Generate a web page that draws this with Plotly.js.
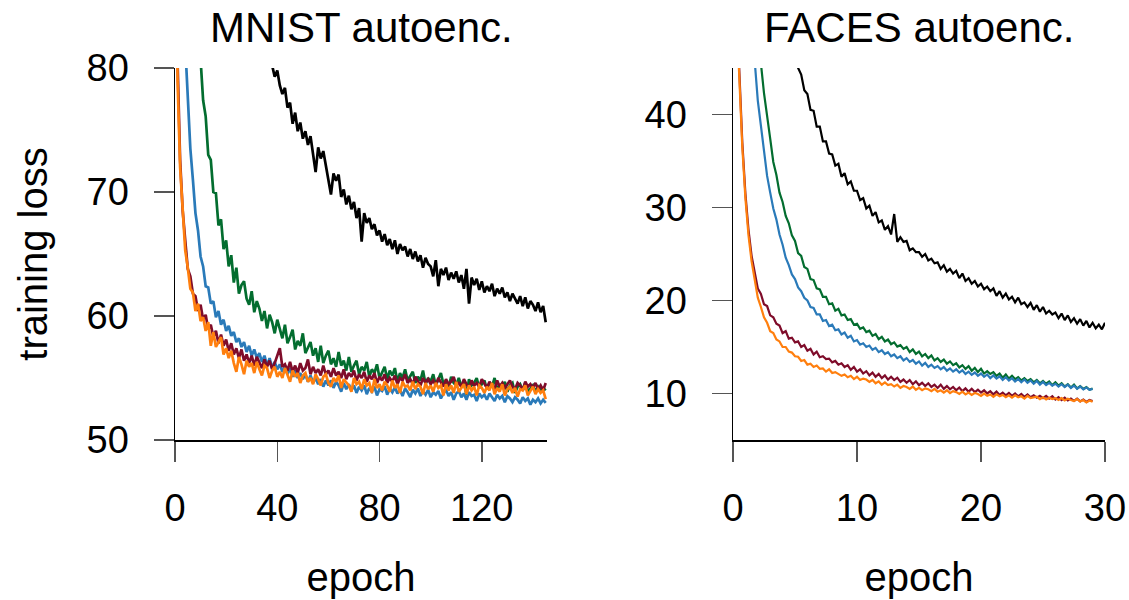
<!DOCTYPE html>
<html><head><meta charset="utf-8">
<script src="https://cdn.plot.ly/plotly-3.0.1.min.js"></script>
<style>html,body{margin:0;padding:0;background:#fff}#chart{width:1129px;height:600px}</style>
</head><body><div id="chart"></div>
<script>
// ---------- data ----------
const panelTitles = ['MNIST autoenc.', 'FACES autoenc.'];
const xLabel = 'epoch';
const yLabel = 'training loss';
const mnistXTicks = [0, 40, 80, 120];
const mnistYTicks = [50, 60, 70, 80];
const facesXTicks = [0, 10, 20, 30];
const facesYTicks = [10, 20, 30, 40];
const seriesColors = {black:'#000000', green:'#036d2f', blue:'#2a7ab9', red:'#7f0c2a', orange:'#ff7f0e'};

// MNIST: one value per epoch
const mnistBlackStart = 30;
const mnistBlack = [
90.0, 88.8, 87.5, 86.2, 85.0, 83.8, 82.6, 81.3, 80.2, 79.3,
79.8, 78.6, 77.9, 78.4, 76.8, 77.2, 75.5, 76.4, 74.9, 75.6,
74.3, 74.9, 73.8, 74.5, 73.2, 71.6, 73.6, 72.7, 73.3, 72.1,
71.2, 69.8, 71.5, 70.9, 71.4, 69.6, 70.2, 69.0, 69.7, 68.6,
69.2, 67.9, 68.7, 66.0, 68.3, 67.5, 67.9, 67.0, 67.4, 66.5,
66.9, 66.0, 66.6, 65.7, 66.2, 65.4, 66.1, 65.0, 65.8, 65.3,
65.6, 64.8, 65.4, 64.6, 65.2, 64.4, 64.9, 63.9, 64.7, 64.2,
64.0, 63.2, 64.5, 62.4, 63.8, 63.3, 63.9, 62.9, 63.5, 63.0,
63.6, 62.7, 63.3, 62.2, 63.8, 61.0, 63.1, 62.5, 63.0, 62.1,
62.8, 61.9, 62.4, 62.0, 62.6, 61.6, 62.2, 61.8, 62.3, 61.5,
61.9, 61.2, 61.8, 61.4, 61.0, 61.6, 60.8, 61.5, 60.6, 61.2,
60.9, 60.4, 61.1, 60.3, 60.8, 59.5];
const mnistGreenStart = 5;
const mnistGreen = [
110.0, 100.0, 93.0, 88.0, 84.0, 80.5,
77.4, 76.1, 73.0, 72.6, 70.0, 69.9, 67.3, 67.8, 65.4, 66.1,
64.0, 64.9, 62.7, 63.9, 61.8, 62.5, 62.8, 61.4, 60.9, 62.0,
60.3, 61.2, 60.6, 59.6, 60.4, 59.0, 60.1, 59.5, 58.6, 59.7,
58.9, 58.2, 59.3, 57.8, 58.3, 58.9, 57.3, 58.0, 57.6, 58.6,
57.0, 57.5, 57.9, 56.8, 57.4, 56.3, 57.6, 56.2, 56.8, 57.2,
56.1, 56.6, 55.9, 57.1, 56.0, 56.4, 55.6, 56.7, 55.5, 56.0,
56.4, 55.3, 55.9, 55.6, 56.3, 55.1, 55.7, 55.4, 56.1, 55.0,
55.5, 55.9, 54.9, 55.6, 55.2, 55.8, 54.7, 55.4, 55.0, 55.7,
54.8, 55.2, 55.5, 54.6, 55.1, 54.8, 55.6, 54.5, 55.0, 54.7,
55.3, 54.4, 54.9, 55.4, 54.5, 54.8, 54.2, 55.1, 54.6, 54.4,
55.0, 54.3, 54.7, 53.6, 54.9, 54.4, 54.6, 55.0, 54.2, 54.5,
54.8, 54.1, 54.6, 54.3, 55.0, 54.0, 54.5, 54.2, 54.7, 53.9,
54.4, 54.6, 53.8, 54.3, 54.5, 54.0, 54.6, 53.9, 54.2, 54.4,
53.9, 54.3, 54.0, 54.2, 54.0];
const mnistBlueStart = 0;
const mnistBlue = [
125.0,
100.0, 92.0, 86.0, 81.5, 77.2, 73.5, 71.0, 68.3, 66.9, 64.8,
64.0, 62.4, 62.3, 61.0, 61.2, 59.9, 60.4, 59.3, 59.7, 58.8,
59.2, 58.4, 58.7, 57.9, 58.2, 57.5, 57.9, 57.1, 57.6, 56.8,
57.3, 56.6, 57.0, 56.3, 56.8, 56.0, 56.6, 55.8, 56.3, 55.7,
56.1, 55.5, 55.9, 55.3, 55.8, 55.1, 55.6, 55.0, 55.4, 54.9,
55.3, 54.7, 55.2, 54.6, 55.0, 54.5, 54.9, 54.3, 54.8, 54.4,
54.8, 54.2, 54.7, 54.4, 53.9, 54.6, 54.1, 54.5, 54.0, 54.4,
53.8, 54.3, 54.0, 54.4, 53.7, 54.2, 53.9, 54.3, 53.6, 54.1,
53.95, 54.35, 53.65, 54.15, 53.85, 54.25, 53.75, 54.05, 53.55, 54.15,
53.85, 53.45, 54.05, 53.75, 54.15, 53.55, 53.95, 53.65, 54.05, 53.45,
53.85, 53.65, 53.95, 53.35, 53.75, 54.05, 53.55, 53.85, 53.25, 53.75,
53.95, 53.45, 53.75, 53.25, 53.85, 53.55, 53.65, 53.15, 53.75, 53.45,
53.65, 53.25, 53.75, 53.45, 53.15, 53.65, 53.35, 53.55, 53.05, 53.55,
53.35, 53.05, 53.45, 53.25, 52.95, 53.45, 53.15, 53.35, 52.85, 53.25,
53.05, 53.35, 52.95, 53.25, 53.0];
const mnistRedStart = 0;
const mnistRed = [
112.0,
80.5, 72.6, 68.5, 66.1, 63.8, 63.2, 61.8, 61.6, 60.4, 60.9,
59.7, 60.1, 58.9, 59.3, 58.3, 58.8, 57.8, 58.5, 57.6, 58.1,
57.2, 57.8, 56.9, 57.4, 56.6, 57.3, 56.4, 56.9, 56.2, 56.8,
56.0, 56.7, 56.3, 55.8, 56.5, 55.9, 56.4, 55.7, 56.2, 56.8,
57.4, 55.9, 56.1, 55.6, 56.3, 55.5, 56.0, 55.4, 56.2, 55.6,
55.8, 56.5, 55.3, 55.9, 55.4, 55.7, 55.2, 56.0, 55.3, 55.6,
55.1, 55.8, 55.2, 55.5, 55.0, 55.7, 54.9, 55.4, 55.1, 55.6,
54.8, 55.3, 55.0, 55.5, 54.7, 55.2, 54.9, 55.4, 54.6, 55.1,
54.8, 55.3, 54.6, 55.0, 54.7, 55.2, 54.5, 55.0, 54.8, 55.3,
54.6, 54.9, 54.5, 55.1, 54.7, 54.4, 55.0, 54.6, 54.9, 54.5,
54.8, 54.4, 55.0, 54.6, 54.3, 54.9, 54.5, 54.7, 55.1, 54.4,
54.6, 54.3, 54.9, 54.5, 54.2, 54.8, 54.4, 54.6, 54.3, 54.9,
54.5, 54.2, 54.7, 54.4, 54.1, 54.8, 54.3, 54.6, 54.2, 54.5,
54.8, 54.3, 54.1, 54.6, 54.4, 54.0, 54.7, 54.3, 54.5, 54.2,
54.6, 54.1, 54.4, 54.0, 54.6];
const mnistOrangeStart = 0;
const mnistOrange = [
110.0,
79.0, 72.0, 68.2, 65.3, 63.9, 62.2, 61.9, 60.4, 61.0, 59.6,
59.9, 58.8, 59.5, 57.6, 58.7, 57.5, 57.9, 58.3, 56.9, 57.4,
56.6, 57.2, 56.2, 55.5, 56.7, 56.1, 55.3, 56.4, 55.9, 56.2,
55.4, 56.3, 55.7, 55.2, 56.0, 55.8, 55.0, 55.6, 55.9, 55.1,
55.5, 55.0, 55.8, 55.3, 54.7, 55.6, 55.1, 55.4, 54.6, 55.2,
55.4, 54.7, 55.0, 54.5, 55.3, 54.9, 54.4, 55.1, 55.3, 54.6,
54.3, 55.0, 54.7, 55.2, 54.2, 54.9, 54.6, 54.4, 53.9, 55.0,
54.5, 54.7, 54.1, 54.9, 54.4, 54.6, 53.8, 54.9, 54.2, 54.5,
54.0, 54.7, 54.4, 53.9, 54.8, 54.2, 54.5, 53.8, 54.7, 54.3,
54.4, 54.0, 54.7, 54.1, 54.5, 54.3, 53.7, 54.6, 54.1, 54.4,
53.9, 54.6, 54.2, 54.4, 53.6, 54.5, 54.0, 54.4, 53.8, 54.7,
53.9, 54.2, 54.5, 53.7, 54.4, 54.0, 54.3, 53.6, 54.4, 54.2,
53.8, 54.3, 54.0, 54.6, 53.7, 54.2, 53.9, 54.5, 53.6, 54.1,
54.3, 53.8, 54.2, 53.5, 54.1, 54.0, 54.4, 53.6, 54.0, 54.3,
53.7, 54.1, 53.8, 54.0, 53.3];

// FACES: one value every quarter epoch
const facesStep = 0.25;
const facesBlackStart = 4.5;
const facesBlack = [
50.5, 48.3, 47.0, 45.0, 44.3, 42.6, 42.2, 40.5, 40.4, 38.7,
38.7, 37.1, 37.1, 35.8, 35.7, 34.5, 34.7, 33.3, 33.7, 32.5,
32.8, 31.8, 31.8, 30.8, 31.0, 29.9, 30.2, 29.1, 29.5, 28.4,
28.6, 27.6, 28.0, 27.1, 29.3, 26.3, 26.8, 26.3, 26.4, 25.4,
25.6, 25.2, 25.2, 24.7, 25.0, 24.3, 24.5, 24.0, 24.1, 23.4,
23.8, 23.1, 23.4, 22.9, 23.2, 22.4, 22.9, 22.1, 22.4, 21.8,
22.1, 21.5, 21.8, 21.2, 21.5, 21.0, 21.3, 20.5, 21.0, 20.3,
20.75, 20.1, 20.4, 19.8, 20.3, 19.6, 19.8, 19.3, 19.75, 19.0,
19.5, 18.8, 19.3, 18.6, 18.9, 18.5, 18.7, 18.1, 18.6, 17.9,
18.4, 17.7, 18.1, 17.5, 18.0, 17.3, 17.8, 17.1, 17.6, 17.0,
17.4, 16.9, 17.6];
const facesGreenStart = 2.0;
const facesGreen = [
50.0, 45.5, 42.3, 39.6, 37.4, 34.9, 33.5, 31.6, 30.6, 29.1,
28.3, 27.0, 26.4, 25.1, 24.8, 23.6, 23.4, 22.3, 22.2, 21.3,
21.2, 20.4, 20.4, 19.6, 19.7, 18.9, 19.1, 18.4, 18.5, 17.9,
18.0, 17.4, 17.5, 16.95, 17.1, 16.6, 16.75, 16.2, 16.4, 15.85,
16.1, 15.6, 15.8, 15.3, 15.5, 15.05, 15.2, 14.8, 15.0, 14.45,
14.75, 14.25, 14.5, 14.0, 14.25, 13.8, 14.1, 13.55, 13.8, 13.4,
13.65, 13.2, 13.45, 13.05, 13.25, 12.8, 13.05, 12.65, 12.95, 12.45,
12.75, 12.3, 12.65, 12.15, 12.4, 12.1, 12.3, 11.9, 12.15, 11.7,
12.05, 11.6, 11.9, 11.55, 11.75, 11.4, 11.65, 11.35, 11.55, 11.2,
11.45, 11.1, 11.35, 11.05, 11.3, 10.9, 11.2, 10.85, 11.1, 10.75,
11.0, 10.65, 10.95, 10.55, 10.8, 10.5, 10.7, 10.4, 10.55];
const facesBlueStart = 1.5;
const facesBlue = [
50.0, 45.5, 41.5, 38.8, 36.2, 33.4, 31.6, 29.9, 28.7, 27.1,
26.0, 24.6, 23.8, 22.8, 22.3, 21.4, 21.0, 20.3, 20.0, 19.3,
19.2, 18.5, 18.5, 17.8, 17.9, 17.25, 17.4, 16.8, 16.9, 16.35,
16.55, 16.0, 16.2, 15.6, 15.75, 15.25, 15.4, 15.0, 15.15, 14.7,
14.9, 14.45, 14.65, 14.25, 14.45, 14.0, 14.2, 13.8, 14.0, 13.55,
13.8, 13.4, 13.6, 13.2, 13.45, 13.0, 13.3, 12.85, 13.1, 12.75,
12.95, 12.6, 12.85, 12.45, 12.7, 12.35, 12.6, 12.25, 12.5, 12.1,
12.35, 12.0, 12.25, 11.9, 12.15, 11.8, 12.05, 11.65, 11.95, 11.6,
11.85, 11.45, 11.75, 11.4, 11.65, 11.3, 11.55, 11.2, 11.5, 11.15,
11.4, 11.05, 11.35, 10.95, 11.25, 10.9, 11.15, 10.85, 11.05, 10.75,
11.0, 10.7, 10.95, 10.6, 10.85, 10.5, 10.75, 10.45, 10.65, 10.4,
10.5];
const facesRedStart = 0.25;
const facesRed = [
53.0, 44.5, 37.0, 31.5, 27.6, 24.8, 23.1, 21.3, 20.7, 19.6,
19.4, 18.4, 18.2, 17.5, 17.3, 16.5, 16.7, 15.9, 16.0, 15.5,
15.6, 15.0, 15.2, 14.6, 14.8, 14.2, 14.5, 13.9, 14.0, 13.7,
13.75, 13.35, 13.5, 13.1, 13.25, 12.85, 13.05, 12.55, 12.85, 12.35,
12.6, 12.15, 12.4, 11.95, 12.25, 11.8, 12.1, 11.65, 11.95, 11.5,
11.8, 11.45, 11.7, 11.25, 11.5, 11.15, 11.45, 11.0, 11.3, 10.9,
11.15, 10.8, 11.1, 10.7, 10.95, 10.6, 10.95, 10.5, 10.8, 10.45,
10.7, 10.35, 10.65, 10.25, 10.55, 10.2, 10.5, 10.15, 10.4, 10.1,
10.35, 10.0, 10.25, 9.9, 10.2, 9.85, 10.1, 9.8, 10.05, 9.75,
10.0, 9.7, 9.95, 9.65, 9.9, 9.6, 9.8, 9.55, 9.75, 9.5,
9.75, 9.45, 9.7, 9.35, 9.6, 9.3, 9.55, 9.25, 9.45, 9.2,
9.45, 9.15, 9.35, 9.1, 9.3, 9.2];
const facesOrangeStart = 0.25;
const facesOrange = [
52.0, 44.0, 36.5, 31.0, 27.0, 24.2, 22.1, 20.3, 19.3, 18.2,
17.6, 16.7, 16.5, 15.8, 15.6, 15.0, 15.0, 14.5, 14.4, 14.0,
13.95, 13.5, 13.6, 13.1, 13.2, 12.85, 13.0, 12.65, 12.7, 12.35,
12.6, 12.2, 12.3, 12.1, 11.9, 12.05, 11.75, 11.9, 11.55, 11.8,
11.45, 11.6, 11.5, 11.25, 11.45, 11.1, 11.3, 10.95, 11.2, 10.9,
11.0, 10.75, 10.95, 10.6, 10.8, 10.7, 10.5, 10.75, 10.4, 10.6,
10.35, 10.55, 10.45, 10.25, 10.5, 10.2, 10.35, 10.1, 10.35, 10.05,
10.25, 10.15, 9.95, 10.2, 9.9, 10.1, 9.85, 10.05, 9.95, 9.75,
10.0, 9.75, 9.9, 9.65, 9.9, 9.7, 9.85, 9.6, 9.8, 9.55,
9.8, 9.6, 9.7, 9.45, 9.75, 9.5, 9.6, 9.65, 9.4, 9.6,
9.35, 9.55, 9.4, 9.5, 9.3, 9.5, 9.25, 9.45, 9.3, 9.2,
9.4, 9.15, 9.3, 9.05, 9.25, 9.1];

// ---------- build ----------
function xs(start, step, n) { const a = []; for (let i = 0; i < n; i++) a.push(+(start + i * step).toFixed(4)); return a; }
function trace(ys, start, step, color, width, xa, ya, name) {
  return {type:'scatter', mode:'lines', x: xs(start, step, ys.length), y: ys,
    line:{color: color, width: width}, xaxis: xa, yaxis: ya, name: name, hoverinfo:'skip', showlegend:false};
}
const LW1 = 2.7, LW2 = 2.2;
const data = [
  trace(mnistBlack, mnistBlackStart, 1, seriesColors.black, LW1, 'x', 'y', 'black'),
  trace(mnistGreen, mnistGreenStart, 1, seriesColors.green, LW1, 'x', 'y', 'green'),
  trace(mnistBlue, mnistBlueStart, 1, seriesColors.blue, LW1, 'x', 'y', 'blue'),
  trace(mnistRed, mnistRedStart, 1, seriesColors.red, LW1, 'x', 'y', 'red'),
  trace(mnistOrange, mnistOrangeStart, 1, seriesColors.orange, LW1, 'x', 'y', 'orange'),
  trace(facesBlack, facesBlackStart, facesStep, seriesColors.black, LW2, 'x2', 'y2', 'black'),
  trace(facesGreen, facesGreenStart, facesStep, seriesColors.green, LW2, 'x2', 'y2', 'green'),
  trace(facesBlue, facesBlueStart, facesStep, seriesColors.blue, LW2, 'x2', 'y2', 'blue'),
  trace(facesRed, facesRedStart, facesStep, seriesColors.red, LW2, 'x2', 'y2', 'red'),
  trace(facesOrange, facesOrangeStart, facesStep, seriesColors.orange, LW2, 'x2', 'y2', 'orange')
];

const FONT = 'Liberation Sans, Arial, sans-serif';
const axCommon = {
  showline:true, linecolor:'#000', linewidth:1.5, mirror:false,
  ticks:'outside', ticklen:20, tickwidth:1.5, tickcolor:'#555',
  showgrid:false, zeroline:false, fixedrange:true,
  tickfont:{family:FONT, size:38, color:'#000'}
};
const xTitle = {text:xLabel, font:{family:FONT, size:40, color:'#000'}, standoff:35};
const layout = {
  width:1129, height:600,
  margin:{l:175, r:24, t:68, b:160},
  paper_bgcolor:'#fff', plot_bgcolor:'#fff',
  font:{family:FONT, size:38, color:'#000'},
  showlegend:false,
  xaxis:Object.assign({}, axCommon, {domain:[0,0.4], range:[0,145.5], tickmode:'array', tickvals:mnistXTicks,
    ticklabelstandoff:14, title:xTitle}),
  yaxis:Object.assign({}, axCommon, {domain:[0,1], range:[50,80], tickmode:'array', tickvals:mnistYTicks,
    ticklabelstandoff:17, title:{text:yLabel, font:{family:FONT, size:40, color:'#000'}, standoff:26}}),
  xaxis2:Object.assign({}, axCommon, {domain:[0.6,1], anchor:'y2', range:[0,30], tickmode:'array', tickvals:facesXTicks,
    ticklabelstandoff:14, title:xTitle}),
  yaxis2:Object.assign({}, axCommon, {domain:[0,1], anchor:'x2', range:[5,45], tickmode:'array', tickvals:facesYTicks,
    ticklabelstandoff:17}),
  annotations:[
    {text:panelTitles[0], xref:'paper', yref:'paper', x:0.2, y:1.11, xanchor:'center', yanchor:'middle', showarrow:false,
      font:{family:FONT, size:42, color:'#000'}},
    {text:panelTitles[1], xref:'paper', yref:'paper', x:0.8, y:1.11, xanchor:'center', yanchor:'middle', showarrow:false,
      font:{family:FONT, size:42, color:'#000'}}
  ]
};
Plotly.newPlot('chart', data, layout, {displayModeBar:false, staticPlot:true});
</script></body></html>
